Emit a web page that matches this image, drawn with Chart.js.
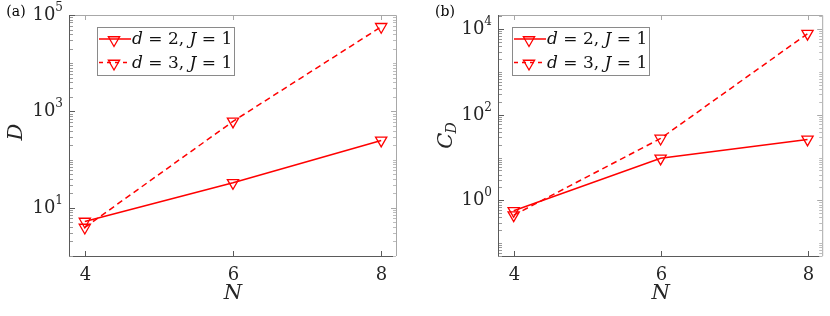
<!DOCTYPE html>
<html>
<head>
<meta charset="utf-8">
<script src="https://cdn.jsdelivr.net/npm/chart.js@4.4.1/dist/chart.umd.min.js"></script>
<style>
  body { margin: 0; background: #fff; font-family: 'DejaVu Serif', serif; }
  .panel { position: absolute; top: 0; width: 415px; height: 316px; }
</style>
</head>
<body>
<div class="panel" style="left:0"><canvas id="chartA" width="415" height="316"></canvas></div>
<div class="panel" style="left:415px"><canvas id="chartB" width="415" height="316"></canvas></div>
<script>
// datos
const nValues = [4, 6, 8];
const nTicks = [4, 6, 8];
const dimD2 = [5.2, 33, 250];
const dimD3 = [3.9, 620, 57000];
const costD2 = [0.57, 9.6, 26.6];
const costD3 = [0.45, 28, 7900];
const seriesDims = [2, 3];
const seriesJ = [1, 1];
const yTicksA = [10, 1000, 100000];
const yTicksB = [1, 100, 10000];

const SERIF = '"DejaVu Serif", "Liberation Serif", serif';
const RED = '#ff0000';
const DASHES = [[], [6, 4]];

function puntos(vals) {
    return nValues.map((n, i) => ({ x: n, y: vals[i] }));
}

function triangulo(ctx, x, y, r) {
    ctx.beginPath();
    ctx.moveTo(x, y + r);
    ctx.lineTo(x - r * 0.866, y - r * 0.5);
    ctx.lineTo(x + r * 0.866, y - r * 0.5);
    ctx.closePath();
    ctx.stroke();
}

// texto con partes en cursiva
function textoRico(ctx, partes, x, y, size) {
    let cx = x;
    partes.forEach(p => {
        ctx.font = (p.i ? 'italic ' : '') + size + 'px ' + SERIF;
        ctx.fillText(p.t, cx, y);
        cx += ctx.measureText(p.t).width;
    });
}

const paperPlugin = {
    id: 'paper',
    afterDraw(chart, args, opts) {
        const ctx = chart.ctx;
        const a = chart.chartArea;
        const xs = chart.scales.x;
        const ys = chart.scales.y;
        ctx.save();

        // caja
        ctx.lineWidth = 1;
        ctx.strokeStyle = '#a8a8a8';
        ctx.beginPath();
        ctx.moveTo(a.left, a.top + 0.5);
        ctx.lineTo(a.right + 0.5, a.top + 0.5);
        ctx.lineTo(a.right + 0.5, a.bottom);
        ctx.stroke();
        ctx.strokeStyle = '#5a5a5a';
        ctx.beginPath();
        ctx.moveTo(a.left - 0.5, a.top);
        ctx.lineTo(a.left - 0.5, a.bottom + 0.5);
        ctx.lineTo(a.right, a.bottom + 0.5);
        ctx.stroke();

        // marcas x y etiquetas
        ctx.fillStyle = '#262626';
        ctx.textAlign = 'center';
        ctx.textBaseline = 'alphabetic';
        ctx.font = '18px ' + SERIF;
        nTicks.forEach(v => {
            const px = Math.round(xs.getPixelForValue(v)) + 0.5;
            ctx.strokeStyle = '#5a5a5a';
            ctx.beginPath();
            ctx.moveTo(px, a.bottom); ctx.lineTo(px, a.bottom - 5);
            ctx.stroke();
            ctx.strokeStyle = '#a8a8a8';
            ctx.beginPath();
            ctx.moveTo(px, a.top); ctx.lineTo(px, a.top + 5);
            ctx.stroke();
            ctx.fillText(String(v), px, a.bottom + 24);
        });

        // marcas y (mayores y menores)
        const e0 = Math.floor(Math.log10(ys.min));
        const e1 = Math.ceil(Math.log10(ys.max));
        for (let e = e0; e <= e1; e++) {
            for (let m = 1; m <= 9; m++) {
                const v = m * Math.pow(10, e);
                if (v < ys.min || v > ys.max) continue;
                const py = Math.round(ys.getPixelForValue(v)) + 0.5;
                const major = opts.ticks.includes(v);
                const len = major ? 5 : 3;
                ctx.strokeStyle = major ? '#5a5a5a' : '#9a9a9a';
                ctx.beginPath();
                ctx.moveTo(a.left, py); ctx.lineTo(a.left + len, py);
                ctx.stroke();
                ctx.strokeStyle = major ? '#a8a8a8' : '#bdbdbd';
                ctx.beginPath();
                ctx.moveTo(a.right, py); ctx.lineTo(a.right - len, py);
                ctx.stroke();
            }
        }

        // etiquetas y con exponente
        opts.ticks.forEach(v => {
            const py = ys.getPixelForValue(v);
            const exp = String(Math.round(Math.log10(v)));
            ctx.font = '12px ' + SERIF;
            const we = ctx.measureText(exp).width;
            ctx.font = '18px ' + SERIF;
            const wb = ctx.measureText('10').width;
            const xr = a.left - 7;
            ctx.textAlign = 'left';
            ctx.fillText('10', xr - we - wb, py + 5);
            ctx.font = '12px ' + SERIF;
            ctx.fillText(exp, xr - we, py - 4);
        });

        // titulo x
        ctx.textAlign = 'center';
        ctx.textBaseline = 'middle';
        ctx.font = 'italic 21px ' + SERIF;
        ctx.fillText('N', (a.left + a.right) / 2, 294);

        // titulo y
        ctx.save();
        ctx.translate(opts.yTitleX, opts.yTitleY);
        ctx.rotate(-Math.PI / 2);
        ctx.textAlign = 'left';
        ctx.textBaseline = 'middle';
        ctx.font = 'italic 21px ' + SERIF;
        const wMain = ctx.measureText(opts.yTitle).width;
        let wSub = 0;
        if (opts.ySub) {
            ctx.font = 'italic 14px ' + SERIF;
            wSub = ctx.measureText(opts.ySub).width;
        }
        const x0 = -(wMain + wSub) / 2;
        ctx.font = 'italic 21px ' + SERIF;
        ctx.fillText(opts.yTitle, x0, 0);
        if (opts.ySub) {
            ctx.font = 'italic 14px ' + SERIF;
            ctx.fillText(opts.ySub, x0 + wMain - 1, 5);
        }
        ctx.restore();

        // etiqueta del panel
        ctx.textAlign = 'center';
        ctx.font = '14px ' + SERIF;
        ctx.fillStyle = '#000';
        ctx.fillText(opts.tag, opts.tagX, 12);

        // leyenda
        const bx = 97, by = 27, bw = 137, bh = 48;
        ctx.fillStyle = '#fff';
        ctx.fillRect(bx, by, bw, bh);
        ctx.strokeStyle = '#8a8a8a';
        ctx.lineWidth = 1;
        ctx.strokeRect(bx + 0.5, by + 0.5, bw, bh);
        chart.data.datasets.forEach((ds, i) => {
            const ry = 39 + i * 23.5;
            ctx.strokeStyle = RED;
            ctx.lineWidth = 1.5;
            ctx.setLineDash(i === 0 ? [] : [4, 4]);
            ctx.beginPath();
            ctx.moveTo(99, ry); ctx.lineTo(131, ry);
            ctx.stroke();
            ctx.setLineDash([]);
            ctx.lineWidth = 1.3;
            triangulo(ctx, 114, ry + 1, 6.5);
            ctx.fillStyle = '#111';
            ctx.textAlign = 'left';
            ctx.textBaseline = 'middle';
            textoRico(ctx, [
                { t: 'd', i: true }, { t: ' = ' + seriesDims[i] + ', ' },
                { t: 'J', i: true }, { t: ' = ' + seriesJ[i] }
            ], 132, ry + 1, 17);
        });

        ctx.restore();
    }
};

function crearPanel(id, serie2, serie3, yMin, yMax, leftW, rightPad, extra) {
    const datos = [serie2, serie3].map((vals, i) => ({
        label: 'd = ' + seriesDims[i] + ', J = ' + seriesJ[i],
        data: puntos(vals),
        borderColor: RED,
        borderWidth: 1.5,
        borderDash: DASHES[i],
        pointStyle: 'triangle',
        rotation: 180,
        pointRadius: 6.5,
        pointBorderWidth: 1.3,
        pointBorderColor: RED,
        pointBackgroundColor: 'rgba(0,0,0,0)',
        clip: false,
    }));

    return new Chart(document.getElementById(id), {
        type: 'line',
        data: { datasets: datos },
        options: {
            responsive: false,
            animation: false,
            layout: { padding: { top: 15, right: rightPad, left: 0, bottom: 0 } },
            plugins: {
                legend: { display: false },
                tooltip: { enabled: false },
                paper: extra,
            },
            scales: {
                x: {
                    type: 'linear',
                    min: 3.8,
                    max: 8.2,
                    afterBuildTicks: s => { s.ticks = nTicks.map(v => ({ value: v })); },
                    afterFit: s => { s.height = 60; },
                    grid: { display: false },
                    border: { display: false },
                    ticks: { display: false },
                },
                y: {
                    type: 'logarithmic',
                    min: yMin,
                    max: yMax,
                    afterFit: s => { s.width = leftW; },
                    grid: { display: false },
                    border: { display: false },
                    ticks: { display: false },
                },
            },
        },
        plugins: [paperPlugin],
    });
}

crearPanel('chartA', dimD2, dimD3, 1, 100000, 70, 19,
    { tag: '(a)', tagX: 16, yTitle: 'D', ySub: null, yTitleX: 17, yTitleY: 132, ticks: yTicksA });
crearPanel('chartB', costD2, costD3, 0.05, 21600, 84, 6,
    { tag: '(b)', tagX: 30, yTitle: 'C', ySub: 'D', yTitleX: 32, yTitleY: 135, ticks: yTicksB });
</script>
</body>
</html>
